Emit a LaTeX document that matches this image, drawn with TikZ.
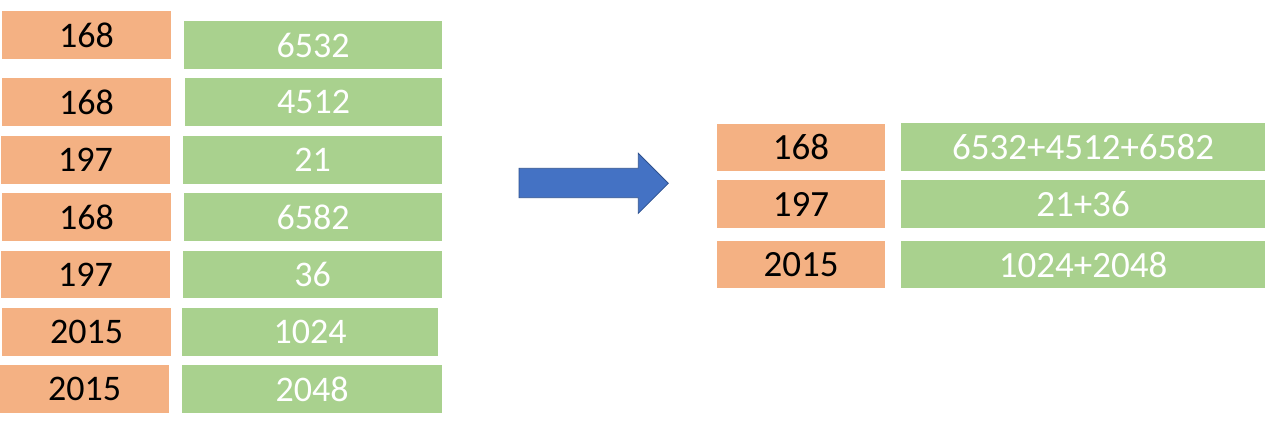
\documentclass[tikz,border=0pt]{standalone}
\usepackage{fontspec}
\setmainfont{Carlito}
\definecolor{korange}{HTML}{F4B183}
\definecolor{vgreen}{HTML}{A9D18E}
\definecolor{arrowblue}{HTML}{4472C4}
\definecolor{arrowedge}{HTML}{2F528F}
\begin{document}
\begin{tikzpicture}[x=1pt,y=-1pt,
  keybox/.style={fill=korange,draw=none,inner sep=0pt,minimum height=48pt,text=black,font=\fontsize{36}{40}\selectfont},
  valbox/.style={fill=vgreen,draw=none,inner sep=0pt,minimum height=48pt,text=white,font=\fontsize{36}{40}\selectfont},
  bigfont/.style={font=\fontsize{37}{41}\selectfont}]
\useasboundingbox (0,0) rectangle (1265,435);
% left keys
\node[keybox,minimum width=169pt] (o1) at (86.5,35) {168};
\node[keybox,minimum width=169pt] (o2) at (86.5,102) {168};
\node[keybox,minimum width=169pt] (o3) at (85.5,160) {197};
\node[keybox,minimum width=169pt] (o4) at (86.5,217) {168};
\node[keybox,minimum width=169pt,minimum height=47pt] (o5) at (85.5,274.5) {197};
\node[keybox,minimum width=169pt] (o6) at (86.5,332) {2015};
\node[keybox,minimum width=169pt] (o7) at (84.5,389) {2015};
% left values
\node[valbox,minimum width=258pt] (g1) at (313,45) {6532};
\node[valbox,minimum width=257pt] (g2) at (313.5,102) {4512};
\node[valbox,minimum width=259pt] (g3) at (312.5,160) {21};
\node[valbox,minimum width=258pt] (g4) at (313,217) {6582};
\node[valbox,minimum width=259pt,minimum height=47pt] (g5) at (312.5,274.5) {36};
\node[valbox,minimum width=256pt] (g6) at (310,332) {1024};
\node[valbox,minimum width=260pt] (g7) at (312,389) {2048};
% arrow
\draw[fill=arrowblue,draw=arrowedge,line width=0.8pt,line join=miter]
  (519,168.3) -- (638.3,168.3) -- (638.3,153.3) -- (668.3,183.3) -- (638.3,213.3) -- (638.3,197.7) -- (519,197.7) -- cycle;
% right keys
\node[keybox,bigfont,minimum width=168pt,minimum height=47pt] (r1) at (801,147.5) {168};
\node[keybox,bigfont,minimum width=168pt] (r2) at (801,204) {197};
\node[keybox,bigfont,minimum width=168pt,minimum height=47pt] (r3) at (801,264.5) {2015};
% right values
\node[valbox,bigfont,minimum width=364pt] (s1) at (1083,147) {6532+4512+6582};
\node[valbox,bigfont,minimum width=364pt] (s2) at (1083,204) {21+36};
\node[valbox,bigfont,minimum width=364pt,minimum height=47pt] (s3) at (1083,264.5) {1024+2048};
\end{tikzpicture}
\end{document}
